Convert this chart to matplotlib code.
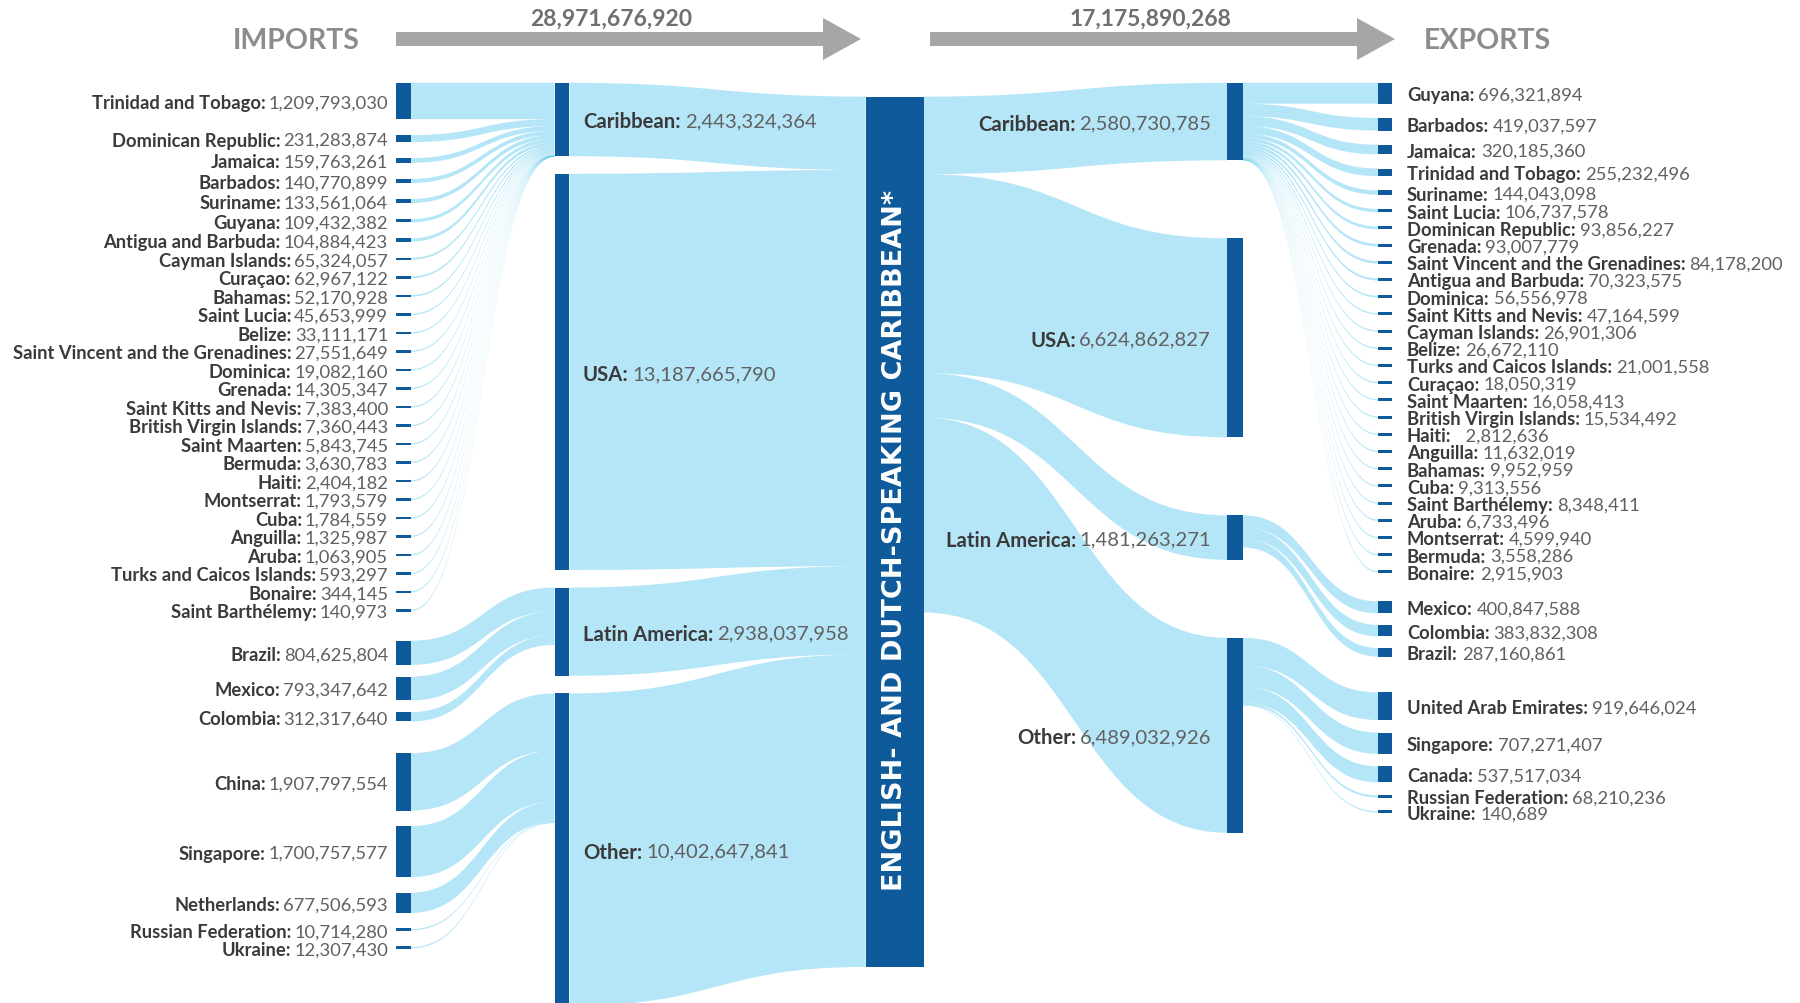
import matplotlib.pyplot as plt
from matplotlib.path import Path
from matplotlib.patches import PathPatch, Rectangle, FancyArrow
from matplotlib import font_manager

# ---- data ----
imp_regions = ['Caribbean', 'USA', 'Latin America', 'Other']
imp_region_vals = [2443324364, 13187665790, 2938037958, 10402647841]
exp_regions = ['Caribbean', 'USA', 'Latin America', 'Other']
exp_region_vals = [2580730785, 6624862827, 1481263271, 6489032926]
imp_total = '28,971,676,920'
exp_total = '17,175,890,268'

imp_car_names = ['Trinidad and Tobago', 'Dominican Republic', 'Jamaica', 'Barbados', 'Suriname',
                 'Guyana', 'Antigua and Barbuda', 'Cayman Islands', 'Curaçao', 'Bahamas',
                 'Saint Lucia', 'Belize', 'Saint Vincent and the Grenadines', 'Dominica', 'Grenada',
                 'Saint Kitts and Nevis', 'British Virgin Islands', 'Saint Maarten', 'Bermuda', 'Haiti',
                 'Montserrat', 'Cuba', 'Anguilla', 'Aruba', 'Turks and Caicos Islands', 'Bonaire',
                 'Saint Barthélemy']
imp_car_vals = [1209793030, 231283874, 159763261, 140770899, 133561064, 109432382, 104884423,
                65324057, 62967122, 52170928, 45653999, 33111171, 27551649, 19082160, 14305347,
                7383400, 7360443, 5843745, 3630783, 2404182, 1793579, 1784559, 1325987, 1063905,
                593297, 344145, 140973]
imp_lat_names = ['Brazil', 'Mexico', 'Colombia']
imp_lat_vals = [804625804, 793347642, 312317640]
imp_oth_names = ['China', 'Singapore', 'Netherlands', 'Russian Federation', 'Ukraine']
imp_oth_vals = [1907797554, 1700757577, 677506593, 10714280, 12307430]

exp_car_names = ['Guyana', 'Barbados', 'Jamaica', 'Trinidad and Tobago', 'Suriname', 'Saint Lucia',
                 'Dominican Republic', 'Grenada', 'Saint Vincent and the Grenadines',
                 'Antigua and Barbuda', 'Dominica', 'Saint Kitts and Nevis', 'Cayman Islands',
                 'Belize', 'Turks and Caicos Islands', 'Curaçao', 'Saint Maarten',
                 'British Virgin Islands', 'Haiti', 'Anguilla', 'Bahamas', 'Cuba',
                 'Saint Barthélemy', 'Aruba', 'Montserrat', 'Bermuda', 'Bonaire']
exp_car_vals = [696321894, 419037597, 320185360, 255232496, 144043098, 106737578, 93856227,
                93007779, 84178200, 70323575, 56556978, 47164599, 26901306, 26672110, 21001558,
                18050319, 16058413, 15534492, 2812636, 11632019, 9952959, 9313556, 8348411,
                6733496, 4599940, 3558286, 2915903]
exp_lat_names = ['Mexico', 'Colombia', 'Brazil']
exp_lat_vals = [400847588, 383832308, 287160861]
exp_oth_names = ['United Arab Emirates', 'Singapore', 'Canada', 'Russian Federation', 'Ukraine']
exp_oth_vals = [919646024, 707271407, 537517034, 68210236, 140689]

# ---- style ----
NODE = '#0f5a9a'
FLOW = '#5cc8ee'
FA = 0.45
NAME_C = '#3a3a3a'
VAL_C = '#606060'
avail = {f.name for f in font_manager.fontManager.ttflist}
LAB = [f for f in ['Lato', 'Open Sans', 'DejaVu Sans'] if f in avail]
K = 30.04e-9  # pixels per dollar

fig = plt.figure(figsize=(18, 10.04), dpi=100)
ax = fig.add_axes([0, 0, 1, 1])
ax.set_xlim(0, 1800)
ax.set_ylim(1004, 0)
ax.axis('off')
renderer = fig.canvas.get_renderer()


def ribbon(x0, a0, b0, x1, a1, b1):
    xm = (x0 + x1) / 2
    verts = [(x0, a0), (xm, a0), (xm, a1), (x1, a1), (x1, b1), (xm, b1), (xm, b0), (x0, b0), (x0, a0)]
    codes = [Path.MOVETO, Path.CURVE4, Path.CURVE4, Path.CURVE4, Path.LINETO,
             Path.CURVE4, Path.CURVE4, Path.CURVE4, Path.CLOSEPOLY]
    ax.add_patch(PathPatch(Path(verts, codes), facecolor=FLOW, alpha=FA, lw=0, zorder=1))


def node(x0, x1, top, h):
    ax.add_patch(Rectangle((x0, top), x1 - x0, h, facecolor=NODE, lw=0, zorder=3))


def label(x, y, name, val, size, align):
    if align == 'right':
        t = ax.text(x, y, val, ha='right', va='center_baseline', fontsize=size,
                    color=VAL_C, family=LAB)
        w = t.get_window_extent(renderer).width
        ax.text(x - w - 3, y, name + ':', ha='right', va='center_baseline', fontsize=size,
                color=NAME_C, family=LAB, weight='bold')
    else:
        t = ax.text(x, y, name + ':', ha='left', va='center_baseline', fontsize=size,
                    color=NAME_C, family=LAB, weight='bold')
        w = t.get_window_extent(renderer).width
        ax.text(x + w + 4, y, val, ha='left', va='center_baseline', fontsize=size,
                color=VAL_C, family=LAB)


def stack_tops(vals, top, gap, minh=0):
    tops, hs = [], []
    y = top
    for v in vals:
        h = max(v * K, minh)
        tops.append(y)
        hs.append(h)
        y += h + gap
    return tops, hs


# region nodes
ix0, ix1 = 554.5, 569.4
ex0, ex1 = 1227, 1243
cx0, cx1 = 865.6, 924.1
ctop = 97.6
imp_tops, imp_hs = stack_tops(imp_region_vals, 83.8, 17.6)
exp_tops, exp_hs = stack_tops(exp_region_vals, 83.8, 78)

# center flows
y = ctop
for t, h in zip(imp_tops, imp_hs):
    ribbon(ix1, t, t + h, cx0, y, y + h)
    y += h
ax.add_patch(Rectangle((cx0, ctop), cx1 - cx0, y - ctop, facecolor=NODE, lw=0, zorder=3))
y = ctop
for t, h in zip(exp_tops, exp_hs):
    ribbon(cx1, y, y + h, ex0, t, t + h)
    y += h

for t, h in zip(imp_tops, imp_hs):
    node(ix0, ix1, t, h)
for t, h in zip(exp_tops, exp_hs):
    node(ex0, ex1, t, h)

# left countries
lx0, lx1 = 396, 411
left_groups = [(imp_car_names, imp_car_vals, 0, 83.8, 16),
               (imp_lat_names, imp_lat_vals, 2, 641.7, 11.7),
               (imp_oth_names, imp_oth_vals, 3, 754.2, 15.5)]
for names, vals, r, top, gap in left_groups:
    tops, hs = stack_tops(vals, top, gap, 2.5)
    yr = imp_tops[r]
    for n, v, t, h in zip(names, vals, tops, hs):
        fh = max(v * K, 1.3)
        c = t + h / 2
        ribbon(lx1, c - fh / 2, c + fh / 2, ix0, yr, yr + max(v * K, 0.6))
        yr += v * K
        node(lx0, lx1, t, h)
        label(388, c, n, f'{v:,}', 13.2, 'right')

# right countries
rx0, rx1 = 1378, 1392
right_groups = [(exp_car_names, exp_car_vals, 0, 83.8, 14.2),
                (exp_lat_names, exp_lat_vals, 2, 602.4, 11.5),
                (exp_oth_names, exp_oth_vals, 3, 693.4, 12.5)]
for names, vals, r, top, gap in right_groups:
    tops, hs = stack_tops(vals, top, gap, 3)
    yr = exp_tops[r]
    for n, v, t, h in zip(names, vals, tops, hs):
        fh = max(v * K, 1.3)
        c = t + h / 2
        ribbon(ex1, yr, yr + max(v * K, 0.6), rx0, c - fh / 2, c + fh / 2)
        yr += v * K
        node(rx0, rx1, t, h)
        sep = '  ' if n == 'Haiti' else ''
        label(1407, c, n, sep + f'{v:,}', 13.2, 'left')

# region labels
for n, v, t, h in zip(imp_regions, imp_region_vals, imp_tops, imp_hs):
    label(583, t + h / 2, n, f'{v:,}', 14.6, 'left')
for n, v, t, h in zip(exp_regions, exp_region_vals, exp_tops, exp_hs):
    label(1211, t + h / 2, n, f'{v:,}', 14.6, 'right')

# center label
ax.text((cx0 + cx1) / 2, 540, 'ENGLISH- AND DUTCH-SPEAKING CARIBBEAN*', rotation=90,
        ha='center', va='center', color='white', fontsize=19.5, weight='bold',
        family='DejaVu Sans', zorder=4)

# header arrows and titles
for x0, x1, off, txt in [(396, 861, -17, imp_total), (930, 1395, -12, exp_total)]:
    ax.add_patch(FancyArrow(x0, 40, x1 - x0, 0, width=14, head_width=42, head_length=38,
                            length_includes_head=True, color='#a6a6a6', lw=0))
    ax.text((x0 + x1) / 2 + off, 19, txt, ha='center', va='center', fontsize=16.5,
            weight='bold', color='#6f6f6f', family=LAB)
ax.text(296, 41, 'IMPORTS', ha='center', va='center', fontsize=20.5, weight='bold',
        color='#8c8c8c', family=LAB)
ax.text(1487, 41, 'EXPORTS', ha='center', va='center', fontsize=20.5, weight='bold',
        color='#8c8c8c', family=LAB)

fig.savefig('out.png', dpi=100)
